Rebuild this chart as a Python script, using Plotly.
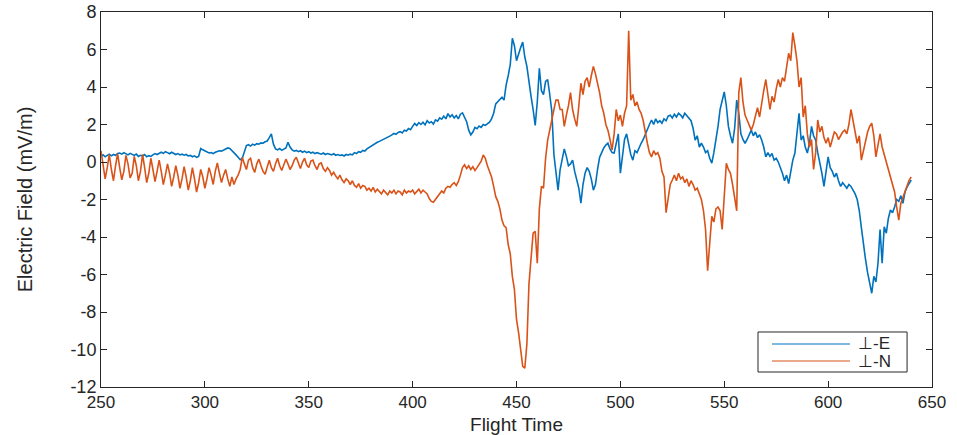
import plotly.graph_objects as go

t_start = 250
t_end = 640
flight_time = list(range(t_start, t_end + 1))

e_perp_E = [
    0.30, 0.38, 0.28, 0.35, 0.42, 0.33, 0.40, 0.36, 0.45, 0.48,
    0.42, 0.50, 0.44, 0.38, 0.46, 0.40, 0.35, 0.42, 0.30, 0.36,
    0.32, 0.40, 0.28, 0.34, 0.30, 0.38, 0.45, 0.40, 0.48, 0.52,
    0.46, 0.55, 0.50, 0.44, 0.52, 0.46, 0.40, 0.45, 0.38, 0.42,
    0.36, 0.40, 0.32, 0.35, 0.28, 0.33, 0.25, 0.30, 0.72, 0.65,
    0.58, 0.52, 0.48, 0.50, 0.45, 0.52, 0.55, 0.60, 0.58, 0.65,
    0.70, 0.75, 0.72, 0.62, 0.50, 0.38, 0.25, 0.12, 0.20, 0.55,
    0.88, 0.92, 0.85, 0.95, 0.90, 0.98, 0.95, 1.02, 1.00, 1.08,
    1.12, 1.30, 1.50, 0.95, 0.70, 0.65, 0.72, 0.62, 0.68, 0.75,
    1.05, 0.80, 0.65, 0.58, 0.62, 0.55, 0.60, 0.52, 0.58, 0.50,
    0.55, 0.48, 0.52, 0.45, 0.50, 0.46, 0.42, 0.48, 0.40, 0.45,
    0.42, 0.38, 0.44, 0.36, 0.40, 0.35, 0.38, 0.32, 0.40, 0.36,
    0.42, 0.38, 0.50, 0.45, 0.55, 0.52, 0.62, 0.58, 0.70, 0.78,
    0.85, 0.92, 0.98, 1.05, 1.10, 1.15, 1.22, 1.28, 1.30, 1.38,
    1.45, 1.52, 1.48, 1.58, 1.62, 1.55, 1.70, 1.65, 1.78, 1.72,
    1.90, 2.05, 1.95, 2.10, 2.00, 2.12, 1.98, 2.20, 2.08, 2.15,
    2.02, 2.25, 2.18, 2.35, 2.28, 2.45, 2.30, 2.58, 2.40, 2.52,
    2.35, 2.48, 2.30, 2.55, 2.62, 2.38, 2.15, 1.70, 1.45, 1.60,
    1.85, 1.78, 1.92, 1.85, 2.00, 1.95, 2.05, 2.12, 2.30, 2.60,
    3.10, 3.20, 3.35, 3.45, 3.30, 4.10, 4.60, 5.20, 6.60, 6.20,
    5.40, 5.80, 6.10, 6.40, 5.60, 5.10, 4.20, 3.50, 2.80, 1.95,
    3.20, 5.00, 3.80, 3.60, 4.30, 4.40, 3.60, 2.70, 0.40, -0.50,
    -1.50, -0.40, 0.20, 0.70, 0.30, -0.20, -0.10, 0.10, -0.50, -0.95,
    -1.40, -2.20, -1.20, -0.60, -0.30, -0.50, -0.90, -1.50, -1.20, -0.40,
    0.25, 0.50, 0.75, 0.90, 1.00, 0.70, 0.50, 0.48, 1.00, 1.50,
    -0.60, 0.40, 1.20, 1.50, 0.90, 0.40, 0.10, 0.60, 0.50, 0.80,
    1.00, 1.20, 1.50, 1.70, 2.00, 2.24, 2.00, 2.30, 2.10, 2.20,
    2.07, 2.30, 2.20, 2.45, 2.50, 2.35, 2.55, 2.40, 2.60, 2.50,
    2.35, 2.60, 2.45, 2.35, 2.20, 1.80, 1.17, 1.40, 0.80, 1.00,
    0.80, 0.50, 0.60, 0.20, -0.06, 0.50, 1.17, 1.90, 2.80, 3.30,
    3.74, 3.00, 1.90, 1.40, 1.00, 1.80, 3.30, 2.60, 1.50, 1.20,
    1.00, 1.20, 1.50, 1.70, 1.40, 1.60, 1.30, 1.45, 1.17, 0.80,
    0.27, 0.50, 0.30, 0.45, 0.10, 0.20, 0.00, -0.27, -0.60, -1.00,
    -0.70, -1.15, -0.50, 0.10, 0.48, 1.50, 2.60, 1.17, 1.40, 0.80,
    0.48, 1.00, 1.90, 1.40, 1.17, 0.50, 0.00, -0.60, -1.30, -0.40,
    0.27, -0.30, -0.50, -0.80, -0.60, -1.00, -1.30, -1.10, -1.25, -1.40,
    -1.20, -1.30, -1.50, -1.70, -2.00, -2.60, -3.50, -4.50, -5.20, -5.90,
    -6.50, -7.00, -6.10, -6.40, -5.40, -3.60, -5.40, -3.45, -3.80, -3.00,
    -2.56, -2.70, -2.40, -2.00, -2.10, -1.80, -2.20, -1.60, -1.33, -1.10,
    -0.96,
]

e_perp_N = [
    0.60, -0.20, -0.90, -0.30, 0.40, -0.40, -1.00, -0.20, 0.45, -0.30,
    -0.95, -0.50, 0.35, -0.10, -0.85, -0.60, 0.30, -0.20, -1.00, -0.50,
    0.40, -0.30, -1.10, -0.60, 0.20, -0.40, -1.05, -0.50, 0.10, -0.50,
    -1.20, -0.70, -0.10, -0.60, -1.30, -0.80, -0.20, -0.70, -1.40, -0.90,
    -0.25, -0.80, -1.50, -1.00, -0.30, -0.90, -1.60, -1.10, -0.40, -0.80,
    -1.40, -0.90, -0.30, -0.70, -1.20, -0.50, -0.05, -0.60, -1.10, -0.70,
    -0.40, -0.90, -1.30, -0.80, -1.20, -0.90, -0.70, -0.40, 0.25, -0.10,
    -0.40, 0.10, 0.20, -0.30, -0.55, -0.10, 0.15, -0.20, -0.50, -0.65,
    -0.20, 0.10, -0.30, -0.50, -0.10, 0.20, -0.20, -0.45, -0.15, 0.15,
    -0.10, -0.40, -0.20, 0.10, 0.25, -0.10, -0.35, 0.00, 0.20, -0.15,
    -0.30, 0.05, 0.10, -0.20, -0.40, -0.10, -0.05, -0.35, -0.50, -0.30,
    -0.45, -0.70, -0.55, -0.75, -0.90, -0.70, -0.95, -1.10, -0.90, -1.00,
    -1.20, -1.00, -1.25, -1.35, -1.15, -1.40, -1.25, -1.30, -1.50, -1.40,
    -1.55, -1.35, -1.60, -1.45, -1.55, -1.70, -1.50, -1.65, -1.75, -1.55,
    -1.65, -1.50, -1.70, -1.55, -1.60, -1.75, -1.50, -1.65, -1.55, -1.60,
    -1.50, -1.70, -1.55, -1.45, -1.65, -1.50, -1.60, -1.70, -1.95, -2.10,
    -2.15, -2.00, -1.85, -1.70, -1.55, -1.65, -1.40, -1.30, -1.35, -1.20,
    -1.10, -1.25, -1.05, -0.70, -0.30, -0.15, -0.35, -0.20, -0.40, -0.25,
    -0.45, -0.30, -0.10, 0.05, 0.37, 0.20, -0.20, -0.45, -0.80, -1.30,
    -1.85, -2.10, -2.50, -3.10, -3.40, -3.50, -4.40, -4.90, -6.10, -6.80,
    -8.40, -9.10, -10.20, -10.90, -11.00, -9.70, -6.50, -5.00, -3.80, -3.70,
    -5.40, -2.50, -1.30, -1.40, 0.20, 1.17, 1.80, 2.24, 2.80, 3.30,
    3.30, 2.80, 2.80, 1.90, 2.50, 3.00, 3.70, 2.80, 2.30, 1.90,
    3.00, 4.20, 3.60, 4.30, 4.50, 4.00, 4.60, 5.10, 4.70, 4.20,
    3.70, 3.00, 2.60, 2.00, 1.70, 1.20, 0.64, 1.50, 2.80, 2.20,
    2.50, 1.90, 2.60, 3.00, 7.00, 3.30, 3.60, 3.00, 3.20, 2.80,
    2.60, 2.20, 1.50, 1.00, 0.50, 0.27, 0.60, 0.40, 0.50, 0.20,
    -0.50, -0.80, -2.70, -1.80, -1.20, -0.96, -0.70, -1.00, -0.60, -0.90,
    -0.80, -1.10, -0.90, -1.30, -1.00, -1.20, -1.50, -1.40, -1.70, -2.00,
    -2.60, -3.60, -5.80, -4.20, -2.90, -3.20, -2.50, -2.40, -2.60, -3.60,
    -1.50, -0.07, -0.40, -0.60, -1.20, -2.00, -2.60, 3.70, 4.50, 3.20,
    2.50, 2.24, 2.00, 1.70, 2.00, 2.50, 2.90, 2.40, 3.20, 3.80,
    4.40, 3.60, 2.80, 3.50, 3.20, 3.90, 4.40, 4.00, 4.50, 4.30,
    5.00, 5.80, 5.40, 6.90, 6.20, 5.40, 4.00, 4.50, 2.40, 3.00,
    1.50, 0.80, 1.20, -0.40, 0.50, 2.24, 1.60, 1.90, 1.30, 1.00,
    1.30, 0.80, 1.20, 1.60, 1.50, 1.20, 1.40, 1.60, 1.70, 1.50,
    2.00, 2.80, 2.20, 1.60, 1.00, 1.40, 0.10, 0.60, 1.20, 1.60,
    1.90, 2.07, 1.40, 0.27, 0.90, 1.50, 0.80, 0.40, -0.06, -0.40,
    -0.80, -1.15, -1.60, -2.40, -3.10, -2.20, -1.87, -1.50, -1.20, -0.96,
    -0.80,
]

series_names = ["\u22a5-E", "\u22a5-N"]
series_colors = ["#0072BD", "#D95319"]
x_ticks = [250, 300, 350, 400, 450, 500, 550, 600, 650]
y_ticks = [-12, -10, -8, -6, -4, -2, 0, 2, 4, 6, 8]
y_tick_labels = ["-12", "-10", "-8", "-6", "-4", "-2", "0", "2", "4", "6", "8"]

FONT = "Liberation Sans, Arial, sans-serif"
INK = "#262626"

fig = go.Figure()
for name, vals, col in zip(series_names, [e_perp_E, e_perp_N], series_colors):
    fig.add_trace(go.Scatter(x=flight_time, y=vals, mode="lines", name=name,
                             line=dict(color=col, width=1.6), showlegend=False))

axis_common = dict(showline=True, linecolor=INK, linewidth=1, mirror="ticks",
                   ticks="inside", ticklen=6, tickcolor=INK, showgrid=False,
                   zeroline=False, automargin=False)

# Manual MATLAB-style legend box (paper coordinates relative to plot area)
legend_box = dict(x0=0.7906, x1=0.970, y0=0.04, y1=0.1467)
legend_rows_y = [0.1147, 0.0693]
legend_line_x = (0.8075, 0.9013)
legend_text_x = 0.9086

shapes = [dict(type="rect", xref="paper", yref="paper", layer="above",
               x0=legend_box["x0"], x1=legend_box["x1"], y0=legend_box["y0"], y1=legend_box["y1"],
               line=dict(color=INK, width=1), fillcolor="white")]
annotations = []
for name, col, yy in zip(series_names, series_colors, legend_rows_y):
    shapes.append(dict(type="line", xref="paper", yref="paper", layer="above",
                       x0=legend_line_x[0], x1=legend_line_x[1], y0=yy, y1=yy,
                       line=dict(color=col, width=1.2)))
    annotations.append(dict(xref="paper", yref="paper", x=legend_text_x, y=yy,
                            xanchor="left", yanchor="middle", text=name, showarrow=False,
                            font=dict(family=FONT, size=17, color=INK)))

fig.update_layout(
    width=957, height=435,
    margin=dict(l=101, r=25, t=12, b=48),
    plot_bgcolor="white", paper_bgcolor="white",
    font=dict(family=FONT, color=INK),
    xaxis=dict(range=[250, 650], tickvals=x_ticks, ticklabelstandoff=0,
               tickfont=dict(family=FONT, size=17, color=INK),
               title=dict(text="Flight Time", font=dict(size=19), standoff=10),
               **axis_common),
    yaxis=dict(range=[-12, 8], tickvals=y_ticks, ticktext=y_tick_labels,
               tickfont=dict(family=FONT, size=18, color=INK),
               title=dict(text="Electric Field (mV/m)", font=dict(size=20), standoff=32),
               **axis_common),
    shapes=shapes,
    annotations=annotations,
    showlegend=False,
)

fig.write_html("out.html", config={"displayModeBar": False},
               post_script="document.body.style.margin='0px';")
